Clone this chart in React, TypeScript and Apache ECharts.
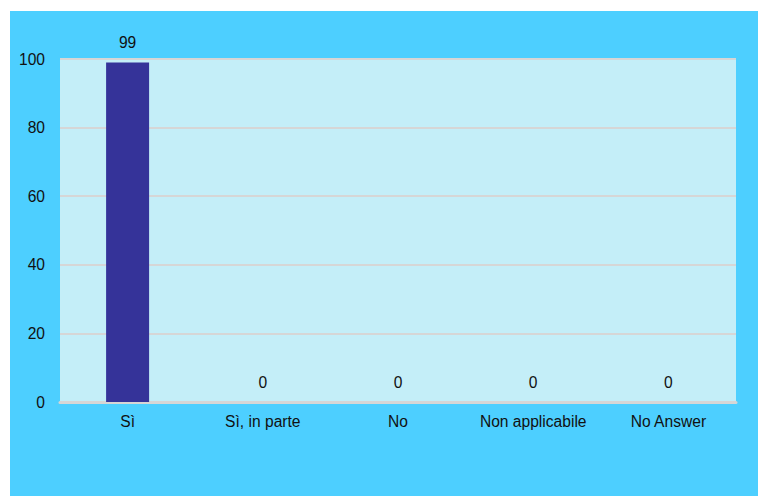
import React, { useEffect, useRef } from "react";
import * as echarts from "echarts";

const categories = ["Sì", "Sì, in parte", "No", "Non applicabile", "No Answer"];
const counts = [99, 0, 0, 0, 0];
const yTicks = { min: 0, max: 100, interval: 20 };

export default function App() {
  const ref = useRef<HTMLDivElement>(null);

  useEffect(() => {
    if (!ref.current) return;
    const chart = echarts.init(ref.current, null, { renderer: "svg" });
    const font = "'Liberation Sans', Arial, Helvetica, sans-serif";
    const size = 15.6;
    chart.setOption({
      animation: false,
      backgroundColor: "#4dcfff",
      textStyle: { fontFamily: font },
      grid: {
        left: 50,
        top: 48,
        right: 22,
        bottom: 94,
        show: true,
        backgroundColor: "#c4eef8",
        borderWidth: 0,
        containLabel: false,
      },
      xAxis: {
        type: "category",
        data: categories,
        axisLine: { show: true, lineStyle: { color: "#d6d6d6", width: 3 } },
        axisTick: { show: false },
        axisLabel: {
          color: "#111",
          fontSize: size,
          margin: 11,
          fontFamily: font,
          interval: 0,
          hideOverlap: false,
        },
      },
      yAxis: {
        type: "value",
        min: yTicks.min,
        max: yTicks.max,
        interval: yTicks.interval,
        axisLine: { show: false },
        axisTick: { show: false },
        axisLabel: { color: "#111", fontSize: size, margin: 15, fontFamily: font },
        splitLine: { show: true, lineStyle: { color: "#d6d6d6", width: 2 } },
      },
      series: [
        {
          type: "bar",
          data: counts,
          barWidth: 43,
          itemStyle: { color: "#353399" },
          z: 3,
          label: {
            show: true,
            position: "top",
            distance: 12,
            color: "#111",
            fontSize: size,
            fontFamily: font,
          },
        },
      ],
    });
    return () => chart.dispose();
  }, []);

  return (
    <div
      ref={ref}
      style={{ position: "absolute", left: 10, top: 11, width: 748, height: 485 }}
    />
  );
}
